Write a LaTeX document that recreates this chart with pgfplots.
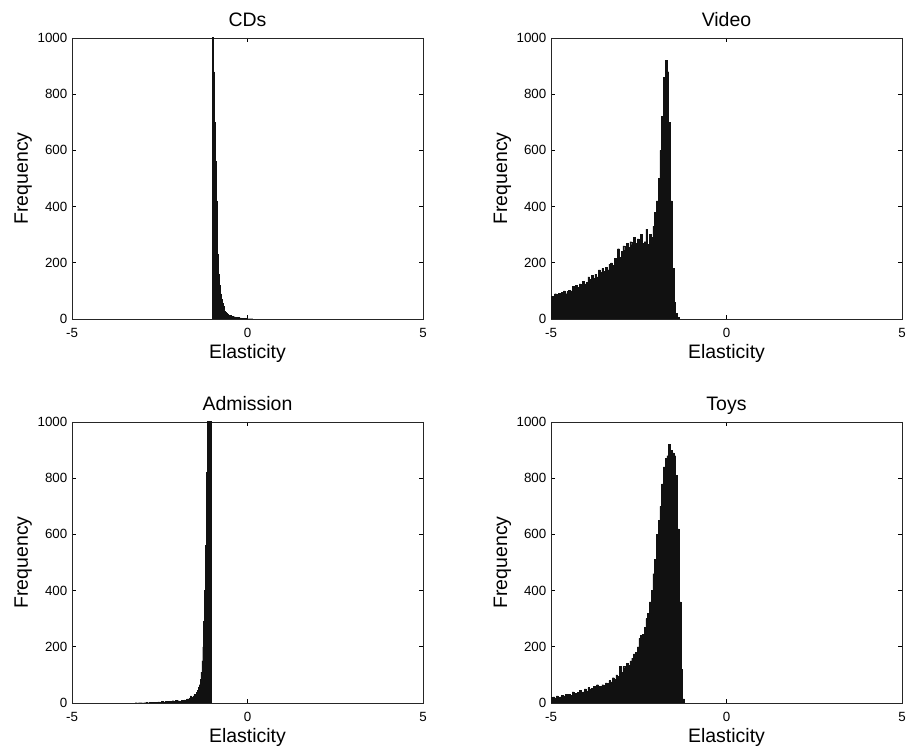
\documentclass[border=0pt]{standalone}
\usepackage{fontspec}
\setmainfont{Liberation Sans}
\usepackage{pgfplots}
\pgfplotsset{compat=1.18}
\definecolor{barfill}{HTML}{111111}
\pgfplotsset{
  panel/.style={
    scale only axis, width=263.25pt, height=210.75pt,
    xmin=-5, xmax=5, ymin=0, ymax=1000,
    xtick={-5,0,5}, ytick={0,200,400,600,800,1000},
    tick align=inside, xtick pos=both, ytick pos=both,
    major tick length=3pt,
    axis line style={black!85, line width=0.6pt},
    every tick/.style={black, line width=0.5pt},
    /pgf/number format/assume math mode=true,
    /pgf/number format/1000 sep={},
    tick label style={font=\fontsize{10}{11}\selectfont},
    xticklabel style={yshift=-3.4pt},
    xlabel=Elasticity, ylabel=Frequency,
    label style={font=\fontsize{14.6}{17}\selectfont},
    xlabel style={at={([yshift=-30pt]axis description cs:0.5,0)}, anchor=base},
    ylabel style={at={([xshift=-33pt]axis description cs:0,0.5)}, anchor=base},
    title style={at={([yshift=2.8pt]axis description cs:0.5,1)}, anchor=base, font=\fontsize{14.6}{17}\selectfont},
    clip=true,
  },
  hist/.style={const plot, fill=barfill, draw=barfill, line width=0.3pt},
}
\begin{document}
\begin{tikzpicture}
\path[use as bounding box] (0,0) rectangle (679.5pt,564pt);

% CDs
\begin{axis}[panel, at={(54pt,324.75pt)}, anchor=south west, title=CDs]
\addplot[hist] coordinates {
(-1.000,3000) (-0.975,880) (-0.950,700) (-0.925,560) (-0.900,420) (-0.875,330)
(-0.850,230) (-0.825,160) (-0.800,120) (-0.775,90) (-0.750,70) (-0.725,55)
(-0.700,45) (-0.675,35) (-0.650,28) (-0.625,24) (-0.600,20) (-0.575,17)
(-0.550,15) (-0.525,14) (-0.500,12) (-0.475,11) (-0.450,10) (-0.425,9)
(-0.400,8) (-0.375,8) (-0.350,7) (-0.325,6) (-0.300,6) (-0.275,5)
(-0.250,5) (-0.225,4) (-0.200,4) (-0.175,3) (-0.150,3) (-0.125,3)
(-0.100,2) (-0.075,2) (-0.050,2) (-0.025,2) (0.000,1) (0.025,1)
(0.050,1) (0.075,1) (0.100,1) (0.125,1) (0.150,0)
} \closedcycle;
\end{axis}

% Video
\begin{axis}[panel, at={(413.25pt,324.75pt)}, anchor=south west, title=Video]
\addplot[hist] coordinates {
(-5.00,80) (-4.95,75) (-4.90,90) (-4.85,88) (-4.80,92) (-4.75,85)
(-4.70,95) (-4.65,100) (-4.60,90) (-4.55,98) (-4.50,102) (-4.45,100)
(-4.40,115) (-4.35,108) (-4.30,120) (-4.25,112) (-4.20,125) (-4.15,118)
(-4.10,135) (-4.05,125) (-4.00,130) (-3.95,150) (-3.90,140) (-3.85,155)
(-3.80,145) (-3.75,160) (-3.70,150) (-3.65,175) (-3.60,165) (-3.55,180)
(-3.50,170) (-3.45,185) (-3.40,175) (-3.35,195) (-3.30,200) (-3.25,190)
(-3.20,215) (-3.15,205) (-3.10,250) (-3.05,220) (-3.00,240) (-2.95,260)
(-2.90,245) (-2.85,270) (-2.80,255) (-2.75,275) (-2.70,265) (-2.65,290)
(-2.60,270) (-2.55,285) (-2.50,265) (-2.45,300) (-2.40,270) (-2.35,275)
(-2.30,320) (-2.25,265) (-2.20,300) (-2.15,290) (-2.10,330) (-2.05,380)
(-2.00,420) (-1.95,500) (-1.90,600) (-1.85,720) (-1.80,860) (-1.75,920)
(-1.70,880) (-1.65,700) (-1.60,420) (-1.55,180) (-1.50,60) (-1.45,20)
(-1.40,5) (-1.35,0)
} \closedcycle;
\end{axis}

% Admission
\begin{axis}[panel, at={(54pt,36.75pt)}, anchor=south west, title=Admission]
\addplot[hist] coordinates {
(-3.20,1) (-3.15,0) (-3.10,1) (-3.05,1) (-3.00,0) (-2.95,1) (-2.90,2)
(-2.85,1) (-2.80,2) (-2.75,2) (-2.70,3) (-2.65,2) (-2.60,3) (-2.55,4)
(-2.50,3) (-2.45,5) (-2.40,4) (-2.35,6) (-2.30,5) (-2.25,7) (-2.20,6)
(-2.15,8) (-2.10,7) (-2.05,9) (-2.00,8)
(-1.950,7) (-1.925,6) (-1.900,7) (-1.875,10) (-1.850,8) (-1.825,9)
(-1.800,11) (-1.775,10) (-1.750,12) (-1.725,15) (-1.700,14) (-1.675,16)
(-1.650,18) (-1.625,25) (-1.600,20) (-1.575,22) (-1.550,24) (-1.525,30)
(-1.500,28) (-1.475,32) (-1.450,38) (-1.425,45) (-1.400,55) (-1.375,65)
(-1.350,85) (-1.325,110) (-1.300,150) (-1.275,200) (-1.250,290) (-1.225,400)
(-1.200,560) (-1.175,820) (-1.150,3000) (-1.125,3000) (-1.100,3000)
(-1.075,3000) (-1.050,3000) (-1.025,0)
} \closedcycle;
\end{axis}

% Toys
\begin{axis}[panel, at={(413.25pt,36.75pt)}, anchor=south west, title=Toys]
\addplot[hist] coordinates {
(-5.00,20) (-4.95,22) (-4.90,18) (-4.85,25) (-4.80,20) (-4.75,22)
(-4.70,28) (-4.65,25) (-4.60,30) (-4.55,26) (-4.50,32) (-4.45,28)
(-4.40,40) (-4.35,30) (-4.30,35) (-4.25,38) (-4.20,45) (-4.15,38)
(-4.10,40) (-4.05,50) (-4.00,42) (-3.95,55) (-3.90,50) (-3.85,52)
(-3.80,58) (-3.75,55) (-3.70,65) (-3.65,60) (-3.60,60) (-3.55,65)
(-3.50,62) (-3.45,72) (-3.40,70) (-3.35,80) (-3.30,75) (-3.25,90)
(-3.20,85) (-3.15,100) (-3.10,95) (-3.05,130) (-3.00,110) (-2.95,130)
(-2.90,125) (-2.85,140) (-2.80,135) (-2.75,150) (-2.70,160) (-2.65,175)
(-2.60,180) (-2.55,200) (-2.50,230) (-2.45,240) (-2.40,245) (-2.35,270)
(-2.30,300) (-2.25,320) (-2.20,360) (-2.15,400) (-2.10,460) (-2.05,510)
(-2.00,600) (-1.95,650) (-1.90,700) (-1.85,780) (-1.80,840) (-1.75,870)
(-1.70,880) (-1.65,920) (-1.60,900) (-1.55,890) (-1.50,880) (-1.45,810)
(-1.40,620) (-1.35,360) (-1.30,120) (-1.25,15) (-1.20,0)
} \closedcycle;
\end{axis}
\end{tikzpicture}
\end{document}
